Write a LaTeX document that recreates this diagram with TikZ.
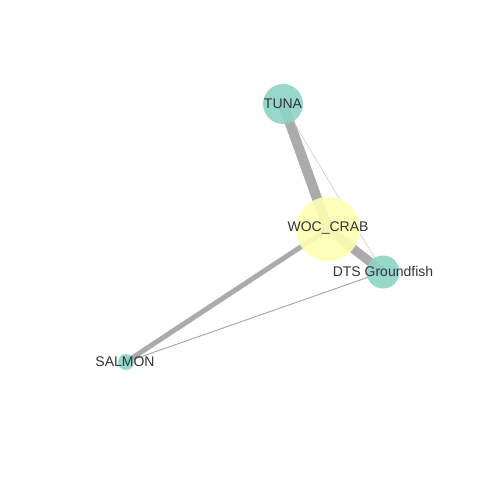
\documentclass[tikz,border=0pt]{standalone}
\usepackage{fontspec}
\setmainfont{Liberation Sans}
\definecolor{teal3}{HTML}{8DD3C7}
\definecolor{yel3}{HTML}{FFFFB3}
\definecolor{edgegray}{HTML}{ABABAB}
\definecolor{labelgray}{HTML}{333333}
\begin{document}
\begin{tikzpicture}[x=1pt,y=-1pt,
  vertex/.style={circle,inner sep=0pt,fill opacity=0.9,text opacity=1,
    text=labelgray,font=\fontsize{14}{16}\selectfont},
  tealv/.style={vertex,fill=teal3},
  yelv/.style={vertex,fill=yel3},
  link/.style={draw=edgegray,line cap=round}]
\useasboundingbox (0,0) rectangle (480,480);
% vertex positions
\coordinate (ctuna) at (283,104);
\coordinate (ccrab) at (328,229);
\coordinate (cdts) at (383,272);
\coordinate (csalmon) at (126,362);
% weighted links, centre to centre
\draw[link,line width=10] (ctuna) -- (ccrab);
\draw[link,line width=9] (ccrab) -- (cdts);
\draw[link,line width=5] (ccrab) -- (csalmon);
\draw[link,line width=0.6,draw=edgegray!60] (ctuna) -- (cdts);
\draw[link,line width=1] (csalmon) -- (cdts);
% vertices
\node[tealv,minimum size=40] (tuna) at (ctuna) {};
\node[yelv,minimum size=64] (crab) at (ccrab) {};
\node[tealv,minimum size=33] (dts) at (cdts) {};
\node[tealv,minimum size=16] (salmon) at (csalmon) {};
% labels
\node[vertex,fill=none] (ltuna) at (283,104) {TUNA};
\node[vertex,fill=none] (lcrab) at (328,228) {WOC\_CRAB};
\node[vertex,fill=none] (ldts) at (383,271) {DTS Groundfish};
\node[vertex,fill=none] (lsalmon) at (125,362) {SALMON};
\end{tikzpicture}
\end{document}
